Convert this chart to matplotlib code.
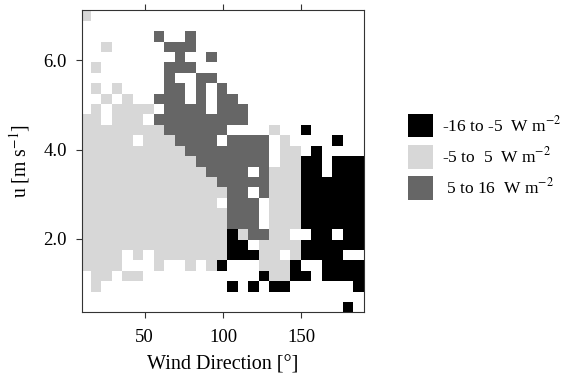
import matplotlib
matplotlib.use("Agg")
import matplotlib.pyplot as plt
import numpy as np
from matplotlib.colors import ListedColormap, BoundaryNorm
from matplotlib.patches import Patch

plt.rcParams['font.family'] = 'Liberation Serif'
plt.rcParams['mathtext.fontset'] = 'stix'

# flux class per (wind direction, u) bin, top row first
# . = no data, L = -5 to 5, D = 5 to 16, K = -16 to -5
grid_rows = [
    "L..........................",
    "...........................",
    ".......D..D................",
    "..L.....DDD................",
    ".........D..D..............",
    ".L......DDD................",
    "........D..DD..............",
    ".L.L....DD.D.D.............",
    "..L.L..DDD.D.DD............",
    ".L.LLLL.DDDD.DDD...........",
    "LL.LLL.DDDDDDDDD...........",
    "LLLLLLLLDDDDDD....L..K.....",
    "LLLLL.LLLDDDD.DDDD.L....K..",
    "LLLLLLLLLLDDDDDDDD.LL.K....",
    "LLLLLLLLLLLDDDDDDD.LLKK.KKK",
    "LLLLLLLLLLLLDDDD.DLLLKK.KKK",
    "LLLLLLLLLLLLLDDDDDLLLKKKKKK",
    "LLLLLLLLLLLLLLDD.DLLLKKKKKK",
    "LLLLLLLLLLLLL.DDD.LLLKKKKKK",
    "LLLLLLLLLLLLLLDDD.LLLKKKKKK",
    "LLLLLLLLLLLLLLDDD.LLLKKKKKK",
    "LLLLLLLLLLLLLLKLDDLL..KK.KK",
    "LLLLLLLLLLLLLLKK.LLLLKKKKKK",
    "LLLL.L.LLLLLLLKKKLL.LKKKK..",
    "LLLL...L..L.LK...LLLK..KKKK",
    ".LL.LL...........KLLKK.KKKK",
    ".L............K.K.KK......K",
    "...........................",
    ".........................K.",
]

dir_start, dir_step = 8.9, 6.707     # degrees
u_start, u_step = 0.35, 0.2334       # m/s

labels = ["-16 to -5  W m$^{-2}$", "-5 to  5  W m$^{-2}$", " 5 to 16  W m$^{-2}$"]
colors = ['white', '#d7d7d7', '#666666', '#000000']
code = {'.': 0, 'L': 1, 'D': 2, 'K': 3}

Z = np.array([[code[c] for c in row] for row in grid_rows[::-1]])
nrow, ncol = Z.shape
xe = dir_start + dir_step * np.arange(ncol + 1)
ye = u_start + u_step * np.arange(nrow + 1)

fig = plt.figure(figsize=(5.64, 3.76), dpi=100)
ax = fig.add_axes([0.1454, 0.1689, 0.5, 0.804])
ax.pcolormesh(xe, ye, Z, cmap=ListedColormap(colors),
              norm=BoundaryNorm([-0.5, 0.5, 1.5, 2.5, 3.5], 4))
ax.set_xlim(10, 190)
ax.set_ylim(0.35, 7.12)
ax.set_xticks([50, 100, 150])
ax.set_yticks([2, 4, 6])
ax.set_yticklabels(['2.0', '4.0', '6.0'])
ax.tick_params(axis='x', top=True, labeltop=False, pad=8)
ax.tick_params(axis='y', pad=7)
ax.tick_params(labelsize=13.5, length=4, color='#333333')
for s in ax.spines.values():
    s.set_color('#333333')
ax.set_xlabel('Wind Direction [°]', fontsize=14.5, labelpad=7)
ax.set_ylabel('u [m s$^{-1}$]', fontsize=14.2, labelpad=8)

handles = [Patch(facecolor=colors[3]), Patch(facecolor=colors[1]), Patch(facecolor=colors[2])]
ax.legend(handles, labels, loc='center left', bbox_to_anchor=(1.10, 0.515),
          frameon=False, fontsize=12.5, handlelength=1.45, handleheight=1.7,
          labelspacing=0.45, handletextpad=0.5)

fig.savefig('out.png', dpi=100)
